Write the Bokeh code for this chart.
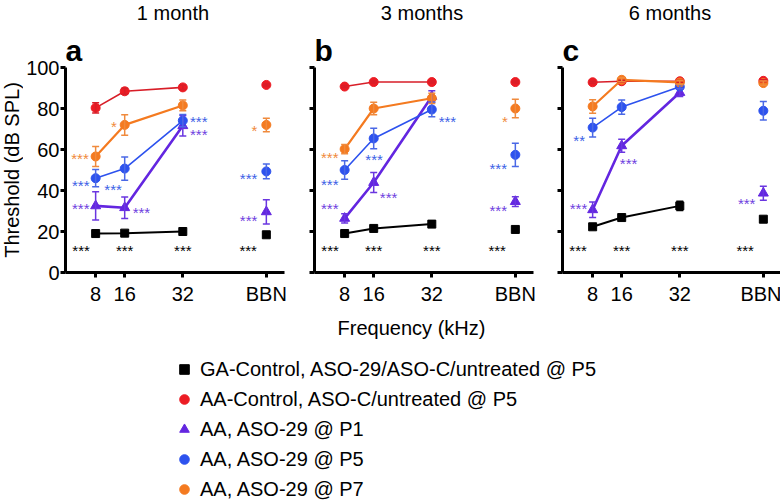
import math
from bokeh.plotting import figure
from bokeh.models import (Range1d, FixedTicker, Whisker, TeeHead, ColumnDataSource,
                          Label, Legend, LegendItem)
from bokeh.layouts import row, column
from bokeh.embed import file_html
from bokeh.resources import INLINE
from bokeh.core.properties import value

FONT = "Liberation Sans"

# ---------------- data ----------------
x_pos = [8, 16, 32, 55]            # 8, 16, 32 kHz and BBN position
x_tick_labels = ["8", "16", "32", "BBN"]
y_ticks = [0, 20, 40, 60, 80, 100]
month_titles = ["1 month", "3 months", "6 months"]
panel_letters = ["a", "b", "c"]
series_names = ["GA-Control, ASO-29/ASO-C/untreated @ P5",
                "AA-Control, ASO-C/untreated @ P5",
                "AA, ASO-29 @ P1",
                "AA, ASO-29 @ P5",
                "AA, ASO-29 @ P7"]

# 1 month  (values at 8, 16, 32, BBN)
ga_1m = [19.0, 19.2, 20.0, 18.4]
ga_1m_err = [0.5, 0.5, 0.5, 0.5]
ctrl_1m = [80.3, 88.4, 90.3, 91.5]
ctrl_1m_err = [2.5, 1.5, 1.0, 0.5]
p1_1m = [32.5, 31.6, 71.6, 29.6]
p1_1m_err = [6.9, 5.2, 5.0, 5.9]
p5_1m = [46.0, 50.7, 74.1, 49.3]
p5_1m_err = [4.2, 5.7, 3.0, 3.6]
p7_1m = [56.6, 72.0, 81.5, 72.0]
p7_1m_err = [4.9, 5.0, 2.6, 3.3]

# 3 months
ga_3m = [19.0, 21.5, 23.6, 21.0]
ga_3m_err = [0.5, 0.8, 0.8, 0.5]
ctrl_3m = [90.7, 92.9, 92.9, 92.9]
ctrl_3m_err = [0.5, 0.5, 0.5, 0.5]
p1_3m = [26.4, 43.9, 85.9, 34.6]
p1_3m_err = [2.2, 4.9, 2.8, 2.4]
p5_3m = [50.0, 65.4, 79.5, 57.4]
p5_3m_err = [4.5, 5.0, 3.5, 5.7]
p7_3m = [60.2, 80.0, 85.0, 80.0]
p7_3m_err = [2.3, 3.0, 2.5, 4.5]

# 6 months
ga_6m = [22.3, 26.8, 32.5, 26.0]
ga_6m_err = [0.5, 1.0, 2.2, 0.5]
ctrl_6m = [92.8, 93.3, 93.3, 93.5]
ctrl_6m_err = [0.5, 0.5, 0.5, 0.5]
p1_6m = [30.6, 61.8, 87.8, 38.7]
p1_6m_err = [3.8, 3.2, 2.0, 3.4]
p5_6m = [70.7, 80.7, 90.6, 78.9]
p5_6m_err = [4.6, 3.5, 1.0, 4.5]
p7_6m = [81.0, 94.0, 92.7, 92.4]
p7_6m_err = [3.3, 1.0, 1.0, 1.0]

# significance marks: x, y, text, series index
stars_1m_x = [3.7, 13.0, 51.7, 3.9, 12.8, 36.4, 50.1, 3.9, 20.6, 36.4, 50.1, 4, 16, 32, 50]
stars_1m_y = [57.0, 72.7, 70.7, 44.0, 41.8, 75.1, 47.5, 32.9, 30.6, 69.0, 26.8, 12, 12, 12, 12]
stars_1m_t = ["***", "*", "*", "***", "***", "***", "***", "***", "***", "***", "***", "***", "***", "***", "***"]
stars_1m_s = [4, 4, 4, 3, 3, 3, 3, 2, 2, 2, 2, 0, 0, 0, 0]

stars_3m_x = [3.9, 52.1, 3.9, 16.1, 36.3, 50.3, 3.9, 20.1, 50.3, 4, 16, 32, 50]
stars_3m_y = [57.4, 75.3, 44.2, 56.4, 75.1, 52.4, 32.9, 38.2, 31.7, 12, 12, 12, 12]
stars_3m_t = ["***", "*", "***", "***", "***", "***", "***", "***", "***", "***", "***", "***", "***"]
stars_3m_s = [4, 4, 3, 3, 3, 3, 2, 2, 2, 0, 0, 0, 0]

stars_6m_x = [4.3, 4.1, 17.9, 50.4, 4, 16, 32, 50]
stars_6m_y = [65.9, 32.9, 54.5, 35.3, 12, 12, 12, 12]
stars_6m_t = ["**", "***", "***", "***", "***", "***", "***", "***"]
stars_6m_s = [3, 2, 2, 2, 0, 0, 0, 0]

# ---------------- styles ----------------
marker_color = ["#000000", "#ec1c24", "#6326e0", "#2d52ee", "#f47a20"]
line_color = ["#000000", "#d81e28", "#6326e0", "#2d52ee", "#f47a20"]
err_color = ["#000000", "#d81e28", "#6a36e0", "#4a68e6", "#f08a3c"]
star_color = ["#000000", "#ec1c24", "#6f3fe0", "#3d5fe6", "#f08a3c"]
markers = ["square", "circle", "triangle", "circle", "circle"]
msize = [8, 9, 10, 9, 9]
lwidth = [2.0, 1.6, 2.6, 1.6, 2.2]

panels = [
    ([ga_1m, ctrl_1m, p1_1m, p5_1m, p7_1m],
     [ga_1m_err, ctrl_1m_err, p1_1m_err, p5_1m_err, p7_1m_err],
     (stars_1m_x, stars_1m_y, stars_1m_t, stars_1m_s)),
    ([ga_3m, ctrl_3m, p1_3m, p5_3m, p7_3m],
     [ga_3m_err, ctrl_3m_err, p1_3m_err, p5_3m_err, p7_3m_err],
     (stars_3m_x, stars_3m_y, stars_3m_t, stars_3m_s)),
    ([ga_6m, ctrl_6m, p1_6m, p5_6m, p7_6m],
     [ga_6m_err, ctrl_6m_err, p1_6m_err, p5_6m_err, p7_6m_err],
     (stars_6m_x, stars_6m_y, stars_6m_t, stars_6m_s)),
]

PY = 2.05                # pixels per dB
HEAD = 67                # room above the 100 dB line (inside the frame)
FRAME_H = 205 + HEAD
BOTTOM = 44
Y_TOP = 100 + HEAD / PY
X_START, X_END = -0.3, 60.0
FRAME_W = 219
STRIP_W = 23
borders = [(40, 15), (15, 14), (15, 0)]
TOTAL_H = 502

# thin strip holding the y-axis title
ylab = figure(frame_width=STRIP_W, frame_height=FRAME_H, x_range=Range1d(0, 1),
              y_range=Range1d(0, Y_TOP), output_backend="svg", toolbar_location=None,
              x_axis_type=None, y_axis_type=None, min_border_left=0, min_border_right=0,
              min_border_top=0, min_border_bottom=BOTTOM)
ylab.outline_line_color = None
ylab.xgrid.visible = False
ylab.ygrid.visible = False
ylab.add_layout(Label(x=0.5, y=50, text="Threshold (dB SPL)", angle=math.pi / 2,
                      text_font=FONT, text_font_size="20px", text_align="center",
                      text_baseline="middle", text_color="black"))

figs = [ylab]
for i, (vals, errs, stars) in enumerate(panels):
    bl, br = borders[i]
    p = figure(frame_width=FRAME_W, frame_height=FRAME_H,
               x_range=Range1d(X_START, X_END), y_range=Range1d(0, Y_TOP),
               output_backend="svg", toolbar_location=None,
               min_border_left=bl, min_border_right=br,
               min_border_top=0, min_border_bottom=BOTTOM)
    p.outline_line_color = None
    p.xgrid.visible = False
    p.ygrid.visible = False
    p.background_fill_color = None
    p.border_fill_color = None

    for ax in (p.xaxis[0], p.yaxis[0]):
        ax.axis_line_width = 3
        ax.axis_line_color = "black"
        ax.major_tick_line_width = 3
        ax.major_tick_in = 0
        ax.major_tick_out = 5
        ax.minor_tick_line_color = None
        ax.major_label_text_font = FONT
        ax.major_label_text_color = "black"
        ax.major_label_text_font_size = "20px"
    p.xaxis.ticker = FixedTicker(ticks=x_pos)
    p.xaxis.major_label_overrides = {x: t for x, t in zip(x_pos, x_tick_labels)}
    p.xaxis.major_label_standoff = 5
    p.yaxis.ticker = FixedTicker(ticks=y_ticks)
    p.yaxis.bounds = (0, 100)
    p.yaxis.major_label_standoff = 1
    if i > 0:
        p.yaxis.major_label_overrides = {t: "" for t in y_ticks}

    for s in range(5):
        v = vals[s]
        e = errs[s]
        # lines over the tonal frequencies only
        p.line(x_pos[:3], v[:3], line_color=line_color[s], line_width=lwidth[s])
        src = ColumnDataSource(dict(x=x_pos, y=v,
                                    lo=[a - b for a, b in zip(v, e)],
                                    hi=[a + b for a, b in zip(v, e)]))
        w = Whisker(base="x", lower="lo", upper="hi", source=src,
                    line_color=err_color[s], line_width=1.5, level="glyph",
                    upper_head=TeeHead(size=7, line_color=err_color[s], line_width=1.5),
                    lower_head=TeeHead(size=7, line_color=err_color[s], line_width=1.5))
        p.add_layout(w)
        p.scatter("x", "y", source=src, marker=markers[s], size=msize[s],
                  fill_color=marker_color[s], line_color=marker_color[s])

    sx, sy, st, ss = stars
    ssrc = ColumnDataSource(dict(x=sx, y=sy, text=st, color=[star_color[k] for k in ss]))
    p.text(x="x", y="y", text="text", text_color="color", source=ssrc,
           text_font=value(FONT), text_font_size="15px", text_align="center",
           text_baseline="middle", y_offset=3)

    p.add_layout(Label(x=29.3, y=126.8, text=month_titles[i], text_font=FONT,
                       text_font_size="20px", text_align="center",
                       text_baseline="middle", text_color="black"))
    p.add_layout(Label(x=X_START, y=108.3, text=panel_letters[i], text_font=FONT,
                       text_font_size="30px", text_font_style="bold",
                       text_align="left", text_baseline="alphabetic",
                       text_color="black"))
    figs.append(p)

LEG_W, LEG_H = 779, TOTAL_H - (FRAME_H + BOTTOM)
leg = figure(width=LEG_W, height=LEG_H,
             x_range=Range1d(0, LEG_W), y_range=Range1d(0, LEG_H),
             output_backend="svg", toolbar_location=None,
             x_axis_type=None, y_axis_type=None, min_border=0)
leg.outline_line_color = None
leg.xgrid.visible = False
leg.ygrid.visible = False
leg.add_layout(Label(x=411, y=LEG_H - 11, text="Frequency (kHz)", text_font=FONT,
                     text_font_size="20px", text_align="center",
                     text_baseline="middle", text_color="black"))
items = []
for s in range(5):
    r = leg.scatter(x=[-100], y=[-100], marker=markers[s], size=10,
                    fill_color=marker_color[s], line_color=marker_color[s])
    items.append(LegendItem(label=series_names[s], renderers=[r]))
legend = Legend(items=items, location=(172, 1), orientation="vertical",
                label_text_font=FONT, label_text_font_size="20px",
                label_text_color="black", glyph_width=24, glyph_height=24,
                label_height=24, label_standoff=4, spacing=6, padding=0, margin=0,
                border_line_color=None, background_fill_alpha=0)
leg.add_layout(legend)

layout = column(row(*figs, spacing=0), leg, spacing=0)
open("out.html", "w").write(file_html(layout, INLINE))
